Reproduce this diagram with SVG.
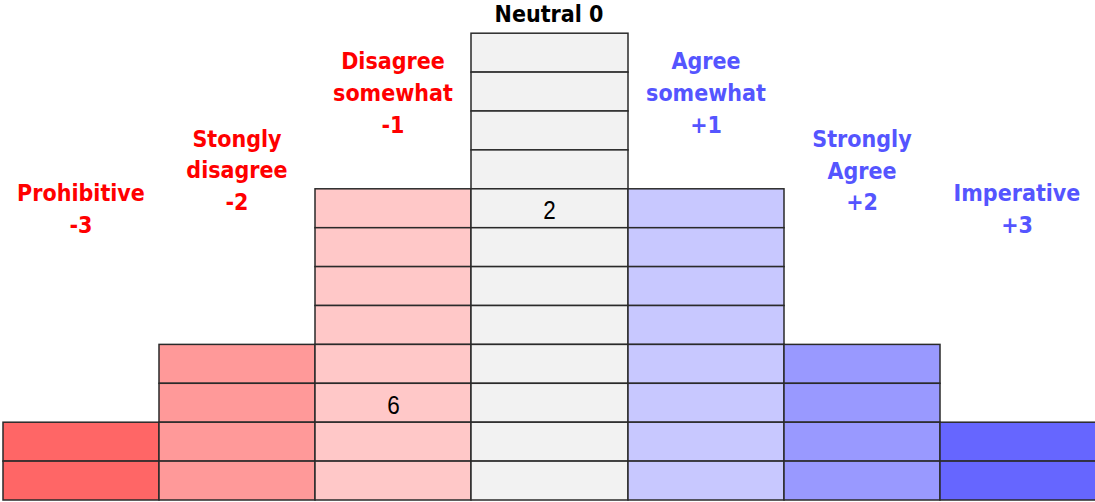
<svg xmlns="http://www.w3.org/2000/svg" width="1095" height="502" viewBox="0 0 1095 502">
<style>
rect{stroke:#2a2a2a;stroke-width:1.5}
.m3{fill:#FF6666}.m2{fill:#FF9999}.m1{fill:#FFC8C8}.z{fill:#F2F2F2}.p1{fill:#C8C8FF}.p2{fill:#9999FF}.p3{fill:#6666FF}
text{font-family:"DejaVu Sans Condensed","DejaVu Sans","Liberation Sans",sans-serif;font-stretch:condensed;font-weight:bold;font-size:23px;text-anchor:middle}
.r{fill:#FF0000}.b{fill:#5555FF}.k{fill:#000}
.n{font-family:"Liberation Sans",Arial,sans-serif;font-stretch:normal;font-weight:normal;font-size:25px;fill:#000}
</style>
<g id="col-m3">
<rect class="m3" x="3" y="422.2" width="156" height="38.9"/>
<rect class="m3" x="3" y="461.1" width="156" height="38.9"/>
<text class="r" x="81" y="201">Prohibitive</text>
<text class="r" x="81" y="233">-3</text>
</g>
<g id="col-m2">
<rect class="m2" x="159" y="344.4" width="156" height="38.9"/>
<rect class="m2" x="159" y="383.3" width="156" height="38.9"/>
<rect class="m2" x="159" y="422.2" width="156" height="38.9"/>
<rect class="m2" x="159" y="461.1" width="156" height="38.9"/>
<text class="r" x="237" y="147">Stongly</text>
<text class="r" x="237" y="178">disagree</text>
<text class="r" x="237" y="210">-2</text>
</g>
<g id="col-m1">
<rect class="m1" x="315" y="188.8" width="156" height="38.9"/>
<rect class="m1" x="315" y="227.7" width="156" height="38.9"/>
<rect class="m1" x="315" y="266.6" width="156" height="38.9"/>
<rect class="m1" x="315" y="305.5" width="156" height="38.9"/>
<rect class="m1" x="315" y="344.4" width="156" height="38.9"/>
<rect class="m1" x="315" y="383.3" width="156" height="38.9"/>
<rect class="m1" x="315" y="422.2" width="156" height="38.9"/>
<rect class="m1" x="315" y="461.1" width="156" height="38.9"/>
<text class="r" x="393" y="69">Disagree</text>
<text class="r" x="393" y="101">somewhat</text>
<text class="r" x="393" y="133">-1</text>
<text class="n" x="393.5" y="414" textLength="12.5" lengthAdjust="spacingAndGlyphs">6</text>
</g>
<g id="col-0">
<rect class="z" x="471" y="33.2" width="157" height="38.9"/>
<rect class="z" x="471" y="72.1" width="157" height="38.9"/>
<rect class="z" x="471" y="111" width="157" height="38.9"/>
<rect class="z" x="471" y="149.9" width="157" height="38.9"/>
<rect class="z" x="471" y="188.8" width="157" height="38.9"/>
<rect class="z" x="471" y="227.7" width="157" height="38.9"/>
<rect class="z" x="471" y="266.6" width="157" height="38.9"/>
<rect class="z" x="471" y="305.5" width="157" height="38.9"/>
<rect class="z" x="471" y="344.4" width="157" height="38.9"/>
<rect class="z" x="471" y="383.3" width="157" height="38.9"/>
<rect class="z" x="471" y="422.2" width="157" height="38.9"/>
<rect class="z" x="471" y="461.1" width="157" height="38.9"/>
<text class="k" x="549" y="22">Neutral 0</text>
<text class="n" x="549.5" y="219" textLength="12.5" lengthAdjust="spacingAndGlyphs">2</text>
</g>
<g id="col-p1">
<rect class="p1" x="628" y="188.8" width="156" height="38.9"/>
<rect class="p1" x="628" y="227.7" width="156" height="38.9"/>
<rect class="p1" x="628" y="266.6" width="156" height="38.9"/>
<rect class="p1" x="628" y="305.5" width="156" height="38.9"/>
<rect class="p1" x="628" y="344.4" width="156" height="38.9"/>
<rect class="p1" x="628" y="383.3" width="156" height="38.9"/>
<rect class="p1" x="628" y="422.2" width="156" height="38.9"/>
<rect class="p1" x="628" y="461.1" width="156" height="38.9"/>
<text class="b" x="706" y="69">Agree</text>
<text class="b" x="706" y="101">somewhat</text>
<text class="b" x="706" y="133">+1</text>
</g>
<g id="col-p2">
<rect class="p2" x="784" y="344.4" width="156" height="38.9"/>
<rect class="p2" x="784" y="383.3" width="156" height="38.9"/>
<rect class="p2" x="784" y="422.2" width="156" height="38.9"/>
<rect class="p2" x="784" y="461.1" width="156" height="38.9"/>
<text class="b" x="862" y="147">Strongly</text>
<text class="b" x="862" y="179">Agree</text>
<text class="b" x="862" y="210">+2</text>
</g>
<g id="col-p3">
<rect class="p3" x="940" y="422.2" width="157" height="38.9"/>
<rect class="p3" x="940" y="461.1" width="157" height="38.9"/>
<text class="b" x="1017" y="201">Imperative</text>
<text class="b" x="1017" y="233">+3</text>
</g>
<g id="connectors"></g>
</svg>
